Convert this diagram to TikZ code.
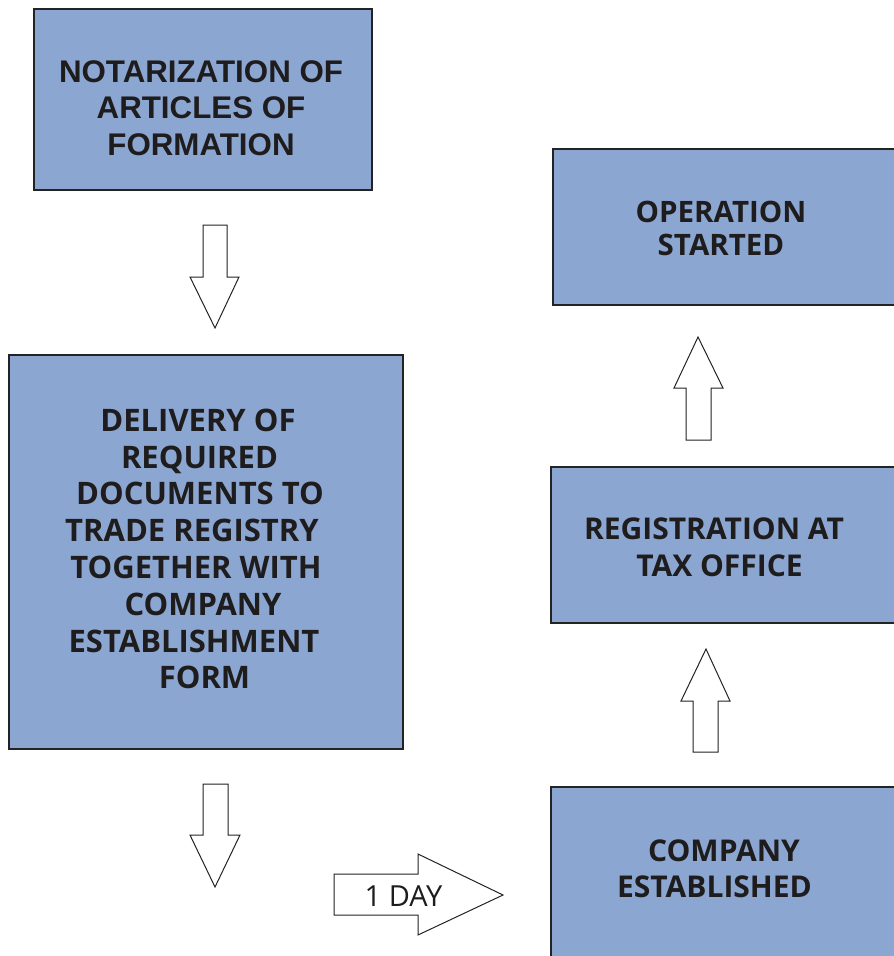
\documentclass[tikz,border=0pt]{standalone}
\usepackage{fontspec}
\newfontfamily\arialf{Liberation Sans}
\newfontfamily\opensf{Open Sans}
\definecolor{boxblue}{RGB}{140,166,210}
\definecolor{edge}{RGB}{35,35,35}
\definecolor{txt}{RGB}{30,28,28}
\tikzset{
  stepbox/.style={draw=edge, line width=1.3pt, fill=boxblue},
  blockarrow/.style={draw=edge, line width=1pt, fill=white, line join=miter},
  arialtext/.style={align=center, text=txt, inner sep=0pt, font=\arialf\bfseries\fontsize{31.3}{36.7}\selectfont},
  opentext/.style 2 args={align=center, text=txt, inner sep=0pt, font=\opensf\bfseries\fontsize{#1}{#2}\selectfont},
}
\begin{document}
\begin{tikzpicture}[x=1pt,y=-1pt]
\useasboundingbox (0,0) rectangle (894,956);
\clip (0,0) rectangle (894,956);
% boxes
\draw[stepbox] (34,9) rectangle (372,190);
\draw[stepbox] (9,355) rectangle (403,749);
\draw[stepbox] (553,149) rectangle (910,305);
\draw[stepbox] (551,467) rectangle (910,623);
\draw[stepbox] (551,787) rectangle (910,970);
% texts
\node[arialtext] (t1) at (201,108) {NOTARIZATION OF\\ARTICLES OF\\FORMATION};
\node[opentext={31}{36.8}] (t2) at (202,549) {DELIVERY OF\kern8pt\\REQUIRED\kern5pt\\DOCUMENTS TO\kern4pt\\TRADE REGISTRY\kern20pt\\TOGETHER WITH\kern12pt\\\kern2pt COMPANY\\ESTABLISHMENT\kern16pt\\\kern5pt FORM};
\node[opentext={29.5}{33}] (t3) at (721,228.5) {OPERATION\\STARTED};
\node[opentext={30}{37}] (t4) at (716,547.5) {REGISTRATION AT\kern4pt\\\kern7pt TAX OFFICE};
\node[opentext={30}{36}] (t5) at (719,868.5) {\kern10pt COMPANY\\ESTABLISHED\kern9pt};
% block arrows
\draw[blockarrow] (203,225) -- (227,225) -- (227,277) -- (239,277) -- (215,328) -- (190,277) -- (203,277) -- cycle;
\draw[blockarrow] (203,784) -- (228,784) -- (228,835) -- (240,835) -- (215,887) -- (190,835) -- (203,835) -- cycle;
\draw[blockarrow] (334,874) -- (418,874) -- (418,854) -- (503,895) -- (418,935) -- (418,915) -- (334,915) -- cycle;
\draw[blockarrow] (693,752) -- (693,701) -- (681,701) -- (706,649) -- (730,701) -- (718,701) -- (718,752) -- cycle;
\draw[blockarrow] (686,440) -- (686,388) -- (674,388) -- (698,337) -- (723,388) -- (711,388) -- (711,440) -- cycle;
\node[text=txt, inner sep=0pt, font=\opensf\fontsize{29}{34}\selectfont, anchor=base] (day) at (403.5,906) {1 DAY};
\end{tikzpicture}
\end{document}
